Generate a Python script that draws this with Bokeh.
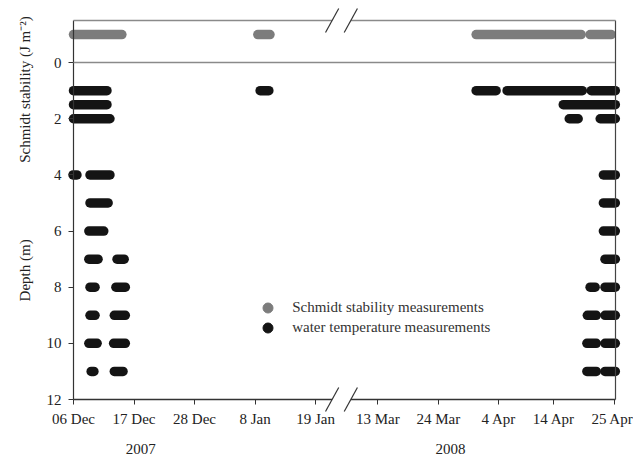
import numpy as np
import pandas as pd
from bokeh.plotting import figure
from bokeh.models import (Range1d, FixedTicker, Label, Arrow, Legend,
                          LegendItem, ColumnDataSource)
from bokeh.embed import file_html
from bokeh.resources import INLINE

# ---------------- data ----------------
# Schmidt stability measurement periods (drawn in the row above the 0 line)
schmidt_row = -1.0
schmidt_start = ["2007-12-06 00:00", "2008-01-08 12:00", "2008-03-30 21:00", "2008-04-20 14:00"]
schmidt_end = ["2007-12-14 19:00", "2008-01-10 17:00", "2008-04-18 23:00", "2008-04-24 10:00"]

# water temperature measurement periods: depth (m), start, end
temp_depth = [1, 1, 1, 1, 1,
              1.5, 1.5,
              2, 2, 2,
              4, 4, 4,
              5, 5,
              6, 6,
              7, 7, 7,
              8, 8, 8, 8,
              9, 9, 9, 9,
              10, 10, 10, 10,
              11, 11, 11, 11]
temp_start = ["2007-12-06 00:00", "2008-01-08 22:00", "2008-03-30 21:00", "2008-04-05 12:00", "2008-04-20 19:00",
              "2007-12-06 00:00", "2008-04-15 17:00",
              "2007-12-06 00:00", "2008-04-16 19:00", "2008-04-22 10:00",
              "2007-12-05 22:00", "2007-12-09 00:00", "2008-04-23 00:00",
              "2007-12-09 00:00", "2008-04-23 00:00",
              "2007-12-08 19:00", "2008-04-23 00:00",
              "2007-12-08 19:00", "2007-12-13 22:00", "2008-04-23 07:00",
              "2007-12-09 00:00", "2007-12-13 17:00", "2008-04-20 14:00", "2008-04-23 07:00",
              "2007-12-09 00:00", "2007-12-13 10:00", "2008-04-20 02:00", "2008-04-23 07:00",
              "2007-12-08 19:00", "2007-12-13 07:00", "2008-04-20 00:00", "2008-04-23 07:00",
              "2007-12-09 05:00", "2007-12-13 10:00", "2008-04-20 00:00", "2008-04-23 07:00"]
temp_end = ["2007-12-12 02:00", "2008-01-10 12:00", "2008-04-03 12:00", "2008-04-19 04:00", "2008-04-25 04:00",
            "2007-12-12 02:00", "2008-04-25 04:00",
            "2007-12-12 15:00", "2008-04-18 10:00", "2008-04-25 04:00",
            "2007-12-06 15:00", "2007-12-12 15:00", "2008-04-25 04:00",
            "2007-12-12 07:00", "2008-04-25 04:00",
            "2007-12-11 12:00", "2008-04-25 04:00",
            "2007-12-10 11:00", "2007-12-15 05:00", "2008-04-25 04:00",
            "2007-12-09 22:00", "2007-12-15 10:00", "2008-04-21 12:00", "2008-04-25 04:00",
            "2007-12-09 22:00", "2007-12-15 10:00", "2008-04-21 17:00", "2008-04-25 04:00",
            "2007-12-10 07:00", "2007-12-15 10:00", "2008-04-21 17:00", "2008-04-25 04:00",
            "2007-12-09 17:00", "2007-12-15 00:00", "2008-04-21 17:00", "2008-04-25 04:00"]

x_tick_dates = ["2007-12-06", "2007-12-17", "2007-12-28", "2008-01-08", "2008-01-19",
                "2008-03-13", "2008-03-24", "2008-04-04", "2008-04-14", "2008-04-25"]
x_tick_labels = ["06 Dec", "17 Dec", "28 Dec", "8 Jan", "19 Jan",
                 "13 Mar", "24 Mar", "4 Apr", "14 Apr", "25 Apr"]
y_ticks = [0, 2, 4, 6, 8, 10, 12]
years = ["2007", "2008"]
legend_labels = ["Schmidt stability measurements", "water temperature measurements"]

# ---------------- broken time axis ----------------
ORIGIN = pd.Timestamp("2007-12-06")
RESUME = pd.Timestamp("2008-03-13")
RESUME_POS = 55.3
DAY = pd.Timedelta(days=1)


def axis_pos(s):
    t = pd.Timestamp(s)
    if t < pd.Timestamp("2008-02-01"):
        return (t - ORIGIN) / DAY
    return RESUME_POS + (t - RESUME) / DAY


FONT = "Liberation Serif"
GRAY = "#7c7c7c"
BLACK = "#141414"
AXC = "#333333"
LGRAY = "#8a8a8a"

W, H = 633, 459
# plotting box in pixels (left, right, top, bottom)
PL, PR, PT, PB = 73, 615, 20, 399
X0, X1 = 0.0, 98.5
Y_TOP, Y_BOT = -1.5, 12.0
kx = (PR - PL) / (X1 - X0)
ky = (PB - PT) / (Y_BOT - Y_TOP)

p = figure(width=W, height=H, output_backend="svg", toolbar_location=None,
           x_range=Range1d(X0 - PL / kx, X1 + (W - PR) / kx),
           y_range=Range1d(Y_BOT + (H - PB) / ky, Y_TOP - PT / ky),
           min_border=0)
p.outline_line_color = None
p.grid.visible = False
p.background_fill_color = "white"

# schmidt bars
src_s = ColumnDataSource(dict(
    x0=[axis_pos(s) for s in schmidt_start],
    x1=[axis_pos(s) for s in schmidt_end],
    y=[schmidt_row] * len(schmidt_start)))
p.segment(x0="x0", y0="y", x1="x1", y1="y", source=src_s,
          line_color=GRAY, line_width=9.5, line_cap="round")

# temperature bars
src_t = ColumnDataSource(dict(
    x0=[axis_pos(s) for s in temp_start],
    x1=[axis_pos(s) for s in temp_end],
    y=temp_depth))
p.segment(x0="x0", y0="y", x1="x1", y1="y", source=src_t,
          line_color=BLACK, line_width=9.5, line_cap="round")


def line(xa, ya, xb, yb, color, width):
    p.add_layout(Arrow(x_start=xa, y_start=ya, x_end=xb, y_end=yb, end=None,
                       line_color=color, line_width=width))


# zero line and right border
line(X0, 0, X1, 0, LGRAY, 1.5)
line(X1, Y_TOP, X1, Y_BOT, "#444444", 1.2)

# top / bottom frame lines with break marks
B1, B2 = 47.0, 50.4
for yy, col in ((Y_TOP, LGRAY), (Y_BOT, AXC)):
    line(X0, yy, B1, yy, col, 1.3)
    line(B2, yy, X1, yy, col, 1.3)
    for b in (B1, B2):
        line(b - 1.2, yy + 0.43, b + 1.2, yy - 0.43, "#333333", 1.2)

# axes (fixed inside the canvas-wide frame)
xa = p.xaxis[0]
xa.fixed_location = Y_BOT
xa.ticker = FixedTicker(ticks=[axis_pos(d) for d in x_tick_dates])
xa.major_label_overrides = {axis_pos(d): lab for d, lab in zip(x_tick_dates, x_tick_labels)}
xa.axis_line_color = None
ya = p.yaxis[0]
ya.fixed_location = X0
ya.bounds = (Y_TOP, Y_BOT)
ya.ticker = FixedTicker(ticks=y_ticks)
ya.axis_line_color = AXC
ya.axis_line_width = 1.2
for ax in (xa, ya):
    ax.major_tick_in = 0
    ax.major_tick_out = 5
    ax.minor_tick_line_color = None
    ax.major_tick_line_color = AXC
    ax.major_label_text_font = FONT
    ax.major_label_text_font_size = "15px"
    ax.major_label_text_color = "#222222"
ya.major_label_standoff = 7
xa.major_label_standoff = 6

# axis titles
p.add_layout(Label(x=-8.8, y=0.96, text="Schmidt stability (J m\u207b\u00b2)", angle=np.pi / 2,
                   text_align="center", text_baseline="middle", text_font=FONT,
                   text_font_size="15px", text_color="#222222"))
p.add_layout(Label(x=-8.8, y=7.4, text="Depth (m)", angle=np.pi / 2,
                   text_align="center", text_baseline="middle", text_font=FONT,
                   text_font_size="15px", text_color="#222222"))
for yr, xpos in zip(years, (12.2, 68.5)):
    p.add_layout(Label(x=xpos, y=13.75, text=yr, text_align="center", text_baseline="middle",
                       text_font=FONT, text_font_size="15px", text_color="#222222"))

# legend (dummy off-canvas points only provide the legend glyphs); one legend per row
for lab, col, ybot in zip(legend_labels, (GRAY, BLACK), (138.8, 118.8)):
    r = p.scatter(x=[-1000], y=[-1000], size=10, color=col)
    lg = Legend(items=[LegendItem(label=lab, renderers=[r])], location=(255.2, ybot))
    lg.border_line_color = None
    lg.background_fill_alpha = 0
    lg.padding = 0
    lg.margin = 0
    lg.spacing = 0
    lg.glyph_width = 25
    lg.glyph_height = 25
    lg.label_height = 20
    lg.label_standoff = 12
    lg.label_text_font = FONT
    lg.label_text_font_size = "15px"
    lg.label_text_color = "#333333"
    p.add_layout(lg)

open("out.html", "w").write(file_html(p, INLINE))
